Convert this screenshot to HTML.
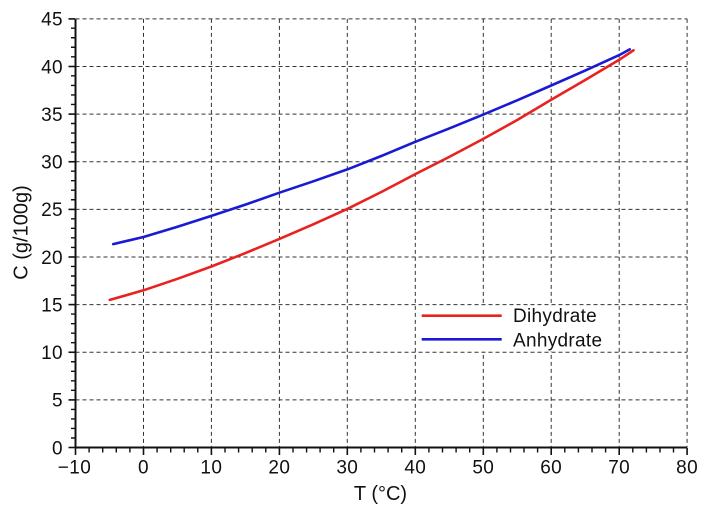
<!DOCTYPE html>
<html>
<head>
<meta charset="utf-8">
<style>
html,body{margin:0;padding:0;background:#fff;}
svg{display:block;font-family:"Liberation Sans",Arial,sans-serif;}
</style>
</head>
<body>
<svg width="711" height="512" viewBox="0 0 711 512" xmlns="http://www.w3.org/2000/svg">
<rect width="711" height="512" fill="#fff"/>
<!-- grid -->
<g stroke="#333" stroke-width="1" stroke-dasharray="4,3" fill="none">
  <line x1="143.5" y1="18.9" x2="143.5" y2="447.5"/>
  <line x1="211.4" y1="18.9" x2="211.4" y2="447.5"/>
  <line x1="279.4" y1="18.9" x2="279.4" y2="447.5"/>
  <line x1="347.3" y1="18.9" x2="347.3" y2="447.5"/>
  <line x1="415.3" y1="18.9" x2="415.3" y2="447.5"/>
  <line x1="483.3" y1="18.9" x2="483.3" y2="447.5"/>
  <line x1="551.2" y1="18.9" x2="551.2" y2="447.5"/>
  <line x1="619.2" y1="18.9" x2="619.2" y2="447.5"/>
  <line x1="687.1" y1="18.9" x2="687.1" y2="447.5"/>
  <line x1="75.5" y1="399.9" x2="687.1" y2="399.9"/>
  <line x1="75.5" y1="352.25" x2="687.1" y2="352.25"/>
  <line x1="75.5" y1="304.6" x2="687.1" y2="304.6"/>
  <line x1="75.5" y1="257" x2="687.1" y2="257"/>
  <line x1="75.5" y1="209.4" x2="687.1" y2="209.4"/>
  <line x1="75.5" y1="161.75" x2="687.1" y2="161.75"/>
  <line x1="75.5" y1="114.1" x2="687.1" y2="114.1"/>
  <line x1="75.5" y1="66.5" x2="687.1" y2="66.5"/>
  <line x1="75.5" y1="18.9" x2="687.1" y2="18.9"/>
</g>
<!-- data -->
<polyline fill="none" stroke="#1a1ad2" stroke-width="2.6" stroke-linejoin="round" stroke-linecap="round"
 points="113.2,244.1 143.5,237.0 177.5,226.7 211.4,215.9 245.4,204.6 279.4,192.7 313.3,181.3 347.3,169.4 381.3,156.0 415.3,141.8 449.3,128.4 483.3,114.6 517.2,100.3 551.2,85.5 585.2,70.6 619.2,55.1 629.7,49.4"/>
<polyline fill="none" stroke="#e8221e" stroke-width="2.6" stroke-linejoin="round" stroke-linecap="round"
 points="109.8,299.9 143.5,290.3 177.5,278.8 211.4,266.5 245.4,253.1 279.4,238.9 313.3,224.3 347.3,208.9 381.3,192.0 415.3,174.1 449.3,156.9 483.3,138.9 517.2,120.0 551.2,99.8 585.2,80.0 619.2,59.8 633.5,50.3"/>
<!-- legend -->
<rect x="417" y="306" width="199" height="45.5" fill="#fff"/>
<line x1="421.7" y1="315.7" x2="501.7" y2="315.7" stroke="#e8221e" stroke-width="2.6"/>
<line x1="421.7" y1="339.3" x2="501.7" y2="339.3" stroke="#1a1ad2" stroke-width="2.6"/>
<text x="513" y="321.8" font-size="19" letter-spacing="0.3" fill="#111">Dihydrate</text>
<text x="513" y="346.6" font-size="19" letter-spacing="0.3" fill="#111">Anhydrate</text>
<!-- axes -->
<g stroke="#111" fill="none">
  <line x1="75.5" y1="18.9" x2="75.5" y2="448.5" stroke-width="2"/>
  <line x1="74.5" y1="447.5" x2="687.1" y2="447.5" stroke-width="2"/>
  <g stroke-width="1.6">
    <line x1="68.5" y1="447.5" x2="75" y2="447.5"/>
    <line x1="68.5" y1="399.9" x2="75" y2="399.9"/>
    <line x1="68.5" y1="352.25" x2="75" y2="352.25"/>
    <line x1="68.5" y1="304.6" x2="75" y2="304.6"/>
    <line x1="68.5" y1="257" x2="75" y2="257"/>
    <line x1="68.5" y1="209.4" x2="75" y2="209.4"/>
    <line x1="68.5" y1="161.75" x2="75" y2="161.75"/>
    <line x1="68.5" y1="114.1" x2="75" y2="114.1"/>
    <line x1="68.5" y1="66.5" x2="75" y2="66.5"/>
    <line x1="68.5" y1="18.9" x2="75" y2="18.9"/>
    <line x1="75.5" y1="448" x2="75.5" y2="455"/>
    <line x1="143.5" y1="448" x2="143.5" y2="455"/>
    <line x1="211.4" y1="448" x2="211.4" y2="455"/>
    <line x1="279.4" y1="448" x2="279.4" y2="455"/>
    <line x1="347.3" y1="448" x2="347.3" y2="455"/>
    <line x1="415.3" y1="448" x2="415.3" y2="455"/>
    <line x1="483.3" y1="448" x2="483.3" y2="455"/>
    <line x1="551.2" y1="448" x2="551.2" y2="455"/>
    <line x1="619.2" y1="448" x2="619.2" y2="455"/>
    <line x1="687.1" y1="448" x2="687.1" y2="455"/>
  </g>
</g>
<g stroke="#111" stroke-width="1.4">
  <path d="M71 438H75M71 428.45H75M71 418.95H75M71 409.4H75M71 390.35H75M71 380.8H75M71 371.3H75M71 361.75H75M71 342.7H75M71 333.15H75M71 323.65H75M71 314.1H75M71 295.05H75M71 285.5H75M71 276H75M71 266.45H75M71 247.4H75M71 237.85H75M71 228.35H75M71 218.8H75M71 199.75H75M71 190.2H75M71 180.7H75M71 171.15H75M71 152.1H75M71 142.55H75M71 133.05H75M71 123.5H75M71 104.45H75M71 94.9H75M71 85.4H75M71 75.85H75M71 56.8H75M71 47.25H75M71 37.75H75M71 28.2H75"/>
  <path d="M89.1 448V452.5M102.7 448V452.5M116.3 448V452.5M129.9 448V452.5M157.1 448V452.5M170.7 448V452.5M184.2 448V452.5M197.8 448V452.5M225 448V452.5M238.6 448V452.5M252.2 448V452.5M265.8 448V452.5M293 448V452.5M306.6 448V452.5M320.1 448V452.5M333.7 448V452.5M360.9 448V452.5M374.5 448V452.5M388.1 448V452.5M401.7 448V452.5M428.9 448V452.5M442.5 448V452.5M456.1 448V452.5M469.7 448V452.5M496.9 448V452.5M510.5 448V452.5M524 448V452.5M537.6 448V452.5M564.8 448V452.5M578.4 448V452.5M592 448V452.5M605.6 448V452.5M632.8 448V452.5M646.4 448V452.5M660 448V452.5M673.5 448V452.5"/>
</g>
<!-- tick labels -->
<g font-size="19" fill="#111" text-anchor="end" letter-spacing="0.4">
  <text x="63" y="454.3">0</text>
  <text x="63" y="406.7">5</text>
  <text x="63" y="359.05">10</text>
  <text x="63" y="311.4">15</text>
  <text x="63" y="263.8">20</text>
  <text x="63" y="216.2">25</text>
  <text x="63" y="168.55">30</text>
  <text x="63" y="120.9">35</text>
  <text x="63" y="73.3">40</text>
  <text x="63" y="25.7">45</text>
</g>
<g font-size="19" fill="#111" text-anchor="middle" letter-spacing="0.4">
  <text x="74.5" y="473.3">−10</text>
  <text x="143.5" y="473.3">0</text>
  <text x="211.4" y="473.3">10</text>
  <text x="279.4" y="473.3">20</text>
  <text x="347.3" y="473.3">30</text>
  <text x="415.3" y="473.3">40</text>
  <text x="483.3" y="473.3">50</text>
  <text x="551.2" y="473.3">60</text>
  <text x="619.2" y="473.3">70</text>
  <text x="687.1" y="473.3">80</text>
</g>
<g font-size="20" fill="#111" text-anchor="middle">
  <text x="380.5" y="500">T (°C)</text>
  <text x="0" y="0" transform="translate(27.5,232.5) rotate(-90)">C (g/100g)</text>
</g>
</svg>
</body>
</html>
